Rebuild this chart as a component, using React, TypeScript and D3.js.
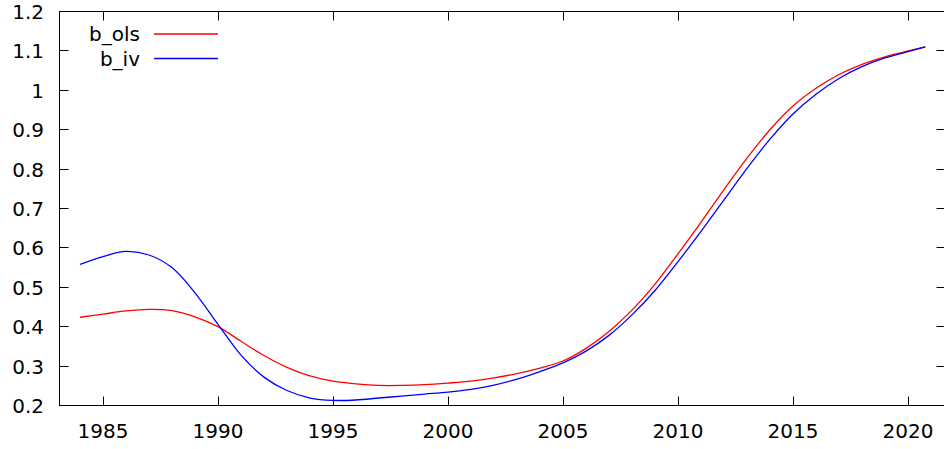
import React, { useEffect, useRef } from 'react'
import * as d3 from 'd3'

const years = [1984, 1985, 1986, 1987, 1988, 1989, 1990, 1991, 1992, 1993, 1994, 1995, 1996, 1997, 1998, 1999, 2000, 2001, 2002, 2003, 2004, 2005, 2006, 2007, 2008, 2009, 2010, 2011, 2012, 2013, 2014, 2015, 2016, 2017, 2018, 2019, 2020, 2020.75]
const bOls = [0.424, 0.432, 0.44, 0.444, 0.441, 0.425, 0.4, 0.363, 0.327, 0.297, 0.275, 0.262, 0.255, 0.251, 0.251, 0.253, 0.257, 0.262, 0.27, 0.281, 0.295, 0.313, 0.345, 0.388, 0.442, 0.508, 0.585, 0.665, 0.748, 0.828, 0.9, 0.96, 1.005, 1.04, 1.066, 1.085, 1.1, 1.11]
const bIv = [0.558, 0.578, 0.591, 0.582, 0.55, 0.486, 0.406, 0.328, 0.272, 0.238, 0.219, 0.213, 0.214, 0.219, 0.224, 0.229, 0.234, 0.241, 0.252, 0.267, 0.286, 0.308, 0.338, 0.378, 0.43, 0.492, 0.565, 0.642, 0.722, 0.802, 0.876, 0.94, 0.99, 1.03, 1.06, 1.082, 1.098, 1.11]
const xTicks = [1985, 1990, 1995, 2000, 2005, 2010, 2015, 2020]
const yTicks = [0.2, 0.3, 0.4, 0.5, 0.6, 0.7, 0.8, 0.9, 1, 1.1, 1.2]

const series = [
  { name: 'b_ols', values: bOls, color: '#ff0000' },
  { name: 'b_iv', values: bIv, color: '#0000ff' },
]

export default function App() {
  const svgRef = useRef<SVGSVGElement>(null)

  useEffect(() => {
    const svg = d3.select(svgRef.current)
    svg.selectAll('*').remove()
    const W = 944, H = 449
    const L = 59.5, R = 945.5, T = 11.5, B = 405.5
    const font = 'DejaVu Sans, sans-serif'

    const x = d3.scaleLinear().domain([1983.11, 2021.63]).range([L, R])
    const y = d3.scaleLinear().domain([0.2, 1.2]).range([B, T])

    svg.attr('width', W).attr('height', H)
    const g = svg.append('g')

    // ticks (all four sides, inward)
    const tl = 9
    xTicks.forEach(t => {
      const px = Math.round(x(t)) + 0.5
      g.append('line').attr('x1', px).attr('x2', px).attr('y1', B).attr('y2', B - tl).attr('stroke', '#000')
      g.append('line').attr('x1', px).attr('x2', px).attr('y1', T).attr('y2', T + tl).attr('stroke', '#000')
      g.append('text').attr('x', x(t)).attr('y', 438).attr('text-anchor', 'middle')
        .style('font-family', font).style('font-size', '20px').text(t)
    })
    yTicks.forEach(t => {
      const py = Math.round(y(t) - 0.5) + 0.5
      g.append('line').attr('x1', L).attr('x2', L + tl).attr('y1', py).attr('y2', py).attr('stroke', '#000')
      g.append('line').attr('x1', R).attr('x2', R - tl).attr('y1', py).attr('y2', py).attr('stroke', '#000')
      g.append('text').attr('x', 44).attr('y', y(t) + 7.5).attr('text-anchor', 'end')
        .style('font-family', font).style('font-size', '20px').text(d3.format('~g')(t))
    })

    // curves
    series.forEach(s => {
      const line = d3.line<number>()
        .x((_, i) => x(years[i]))
        .y(d => y(d))
        .curve(d3.curveCatmullRom.alpha(0.5))
      g.append('path').attr('d', line(s.values)).attr('fill', 'none')
        .attr('stroke', s.color).attr('stroke-width', 1.3)
    })

    // frame
    g.append('rect').attr('x', L).attr('y', T).attr('width', R - L).attr('height', B - T)
      .attr('fill', 'none').attr('stroke', '#000').attr('stroke-width', 1)

    // legend
    series.forEach((s, i) => {
      const ly = 34 + i * 24.5
      g.append('text').attr('x', 140).attr('y', ly + 7).attr('text-anchor', 'end')
        .style('font-family', font).style('font-size', '20px').text(s.name)
      g.append('line').attr('x1', 154).attr('x2', 218).attr('y1', ly).attr('y2', ly)
        .attr('stroke', s.color).attr('stroke-width', 1.3)
    })
  }, [])

  return (
    <svg ref={svgRef} style={{ position: 'absolute', left: 0, top: 0, background: '#fff' }} />
  )
}
